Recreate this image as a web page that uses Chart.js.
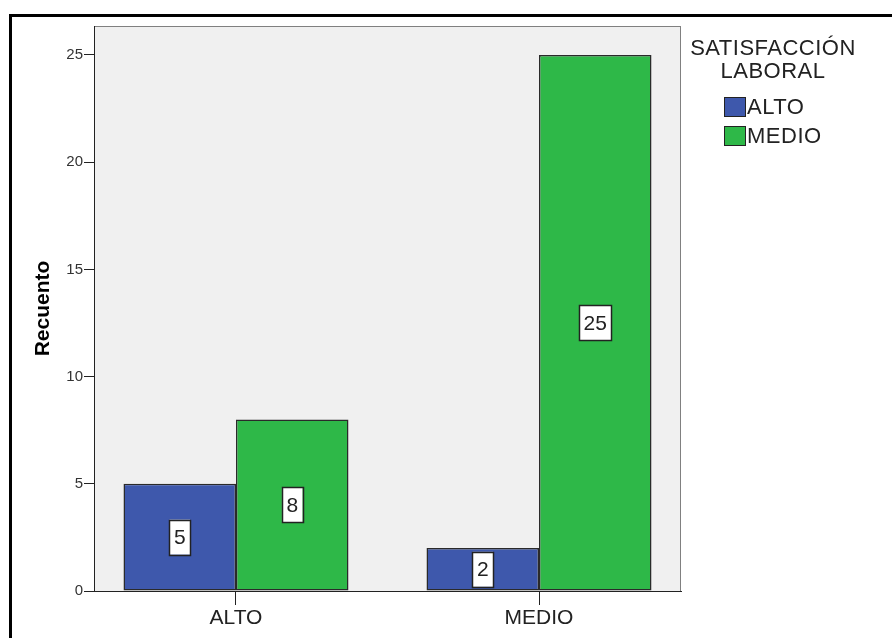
<!DOCTYPE html>
<html>
<head>
<meta charset="utf-8">
<script src="https://cdn.jsdelivr.net/npm/chart.js@4.4.0/dist/chart.umd.min.js"></script>
<style>
  body { margin: 0; background: #fff; }
  #frame { position: absolute; left: 9px; top: 14px; width: 1000px; height: 800px;
           border-top: 3px solid #000; border-left: 3px solid #000; }
  #wrap { position: absolute; left: 0; top: 0; width: 892px; height: 638px; }
</style>
</head>
<body>
<div id="frame"></div>
<div id="wrap"><canvas id="chart_1"></canvas></div>
<script>
// data
var categories = ['ALTO', 'MEDIO'];
var seriesNames = ['ALTO', 'MEDIO'];
var altoValues = [5, 2];
var medioValues = [8, 25];
var yTicks = [0, 5, 10, 15, 20, 25];
var legendTitle = ['SATISFACCIÓN', 'LABORAL'];
var yTitle = 'Recuento';

var FONT = '"Liberation Sans", Arial, sans-serif';
var seriesColors = ['#3e58ac', '#2eb848'];

function toPoints(vals) {
  return vals.map(function (v, i) { return { x: i, y: v }; });
}

// gray plot panel
var panelPlugin = {
  id: 'panel',
  beforeDraw: function (chart) {
    var a = chart.chartArea, ctx = chart.ctx;
    ctx.save();
    ctx.fillStyle = '#f0f0f0';
    ctx.fillRect(a.left, a.top, a.right - a.left, a.bottom - a.top);
    ctx.strokeStyle = '#808080';
    ctx.lineWidth = 1;
    ctx.strokeRect(a.left + 0.5, a.top + 0.5, a.right - a.left - 1, a.bottom - a.top);
    ctx.restore();
  }
};

// boxed value labels in the middle of each bar
var valueLabels = {
  id: 'valueLabels',
  afterDatasetsDraw: function (chart) {
    var ctx = chart.ctx;
    ctx.save();
    ctx.font = '21px ' + FONT;
    ctx.textAlign = 'center';
    ctx.textBaseline = 'middle';
    chart.data.datasets.forEach(function (ds, di) {
      chart.getDatasetMeta(di).data.forEach(function (bar, i) {
        var txt = String(ds.data[i].y);
        var cx = bar.x, cy = (bar.y + bar.base) / 2;
        var w = ctx.measureText(txt).width + 9, h = 35;
        ctx.fillStyle = '#fff';
        ctx.fillRect(cx - w / 2, cy - h / 2, w, h);
        ctx.strokeStyle = '#222';
        ctx.lineWidth = 1.5;
        ctx.strokeRect(Math.round(cx - w / 2) + 0.5, Math.round(cy - h / 2) + 0.5, Math.round(w), h);
        ctx.fillStyle = '#222';
        ctx.fillText(txt, cx, cy + 1);
      });
    });
    ctx.restore();
  }
};

// legend on the right
var sideLegend = {
  id: 'sideLegend',
  afterDraw: function (chart) {
    var ctx = chart.ctx;
    ctx.save();
    ctx.font = '22px ' + FONT;
    ctx.fillStyle = '#222';
    ctx.textBaseline = 'middle';
    ctx.textAlign = 'center';
    ctx.letterSpacing = '0.5px';
    ctx.fillText(legendTitle[0], 773, 49);
    ctx.fillText(legendTitle[1], 773, 72);
    ctx.textAlign = 'left';
    chart.data.datasets.forEach(function (ds, i) {
      var y = 97 + i * 29;
      ctx.fillStyle = ds.backgroundColor;
      ctx.fillRect(724, y, 22, 20);
      ctx.strokeStyle = '#222';
      ctx.lineWidth = 1;
      ctx.strokeRect(724.5, y + 0.5, 21, 19);
      ctx.fillStyle = '#222';
      ctx.fillText(ds.label, 747, y + 11);
    });
    ctx.restore();
  }
};

var ctx_1 = document.getElementById('chart_1').getContext('2d');
var chart_1 = new Chart(ctx_1, {
  type: 'bar',
  data: {
    datasets: [
      { label: seriesNames[0], data: toPoints(altoValues), backgroundColor: seriesColors[0] },
      { label: seriesNames[1], data: toPoints(medioValues), backgroundColor: seriesColors[1] }
    ]
  },
  options: {
    responsive: true,
    maintainAspectRatio: false,
    animation: false,
    layout: { padding: { left: 0, top: 26, right: 211, bottom: 0 } },
    datasets: {
      bar: {
        categoryPercentage: 0.7426,
        barPercentage: 1,
        borderWidth: 1.5,
        borderColor: '#2a2a2a',
        borderSkipped: false
      }
    },
    plugins: {
      legend: { display: false },
      tooltip: { enabled: false }
    },
    scales: {
      x: {
        type: 'linear',
        min: -0.4686,
        max: 1.4686,
        offset: false,
        afterBuildTicks: function (s) {
          s.ticks = categories.map(function (c, i) { return { value: i }; });
        },
        afterFit: function (s) { s.height = 47; },
        grid: { offset: false, drawOnChartArea: false, tickLength: 14, color: '#222' },
        border: { color: '#222', width: 1 },
        ticks: {
          callback: function (v) { return categories[v]; },
          font: { family: FONT, size: 21 },
          color: '#222',
          padding: 1,
          maxRotation: 0,
          autoSkip: false
        }
      },
      y: {
        min: 0,
        max: 26.35,
        afterBuildTicks: function (s) {
          s.ticks = yTicks.map(function (v) { return { value: v }; });
        },
        afterFit: function (s) { s.width = 94; },
        grid: { drawOnChartArea: false, tickLength: 10, color: '#222' },
        border: { color: '#222', width: 1 },
        ticks: { font: { family: FONT, size: 15 }, color: '#333', padding: 1 },
        title: {
          display: true,
          text: yTitle,
          color: '#000',
          font: { family: FONT, size: 21, weight: 'bold' },
          padding: { top: 31, bottom: 0 }
        }
      }
    }
  },
  plugins: [panelPlugin, valueLabels, sideLegend]
});
</script>
</body>
</html>
